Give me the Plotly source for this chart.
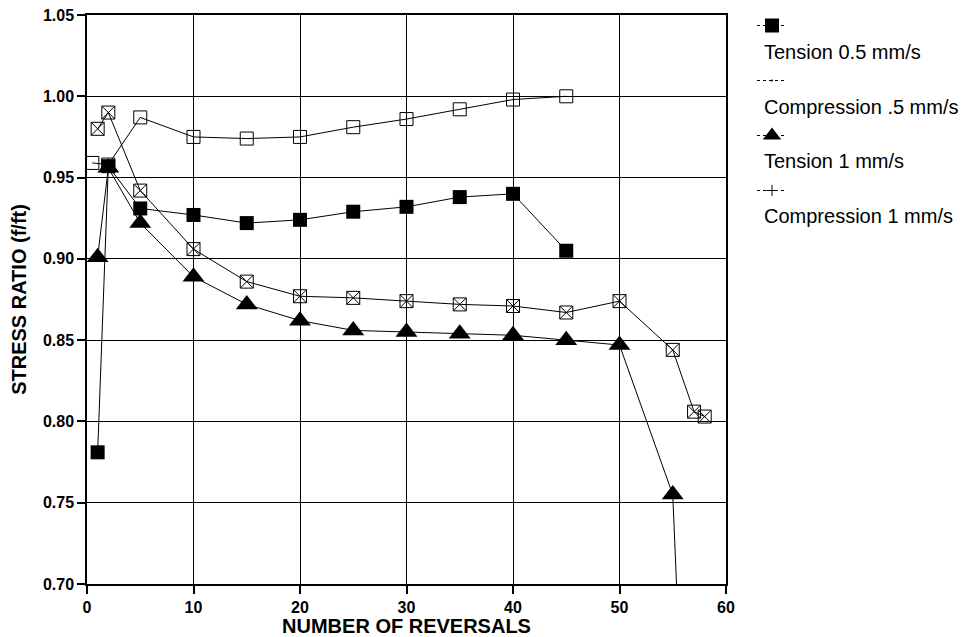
import plotly.graph_objects as go

# Data
t05_x = [1, 2, 5, 10, 15, 20, 25, 30, 35, 40, 45]
t05_y = [0.781, 0.957, 0.931, 0.927, 0.922, 0.924, 0.929, 0.932, 0.938, 0.940, 0.905]

c05_x = [0.5, 2, 5, 10, 15, 20, 25, 30, 35, 40, 45]
c05_y = [0.959, 0.958, 0.987, 0.975, 0.974, 0.975, 0.981, 0.986, 0.992, 0.998, 1.000]

t1_x = [1, 2, 5, 10, 15, 20, 25, 30, 35, 40, 45, 50, 55, 56]
t1_y = [0.901, 0.956, 0.922, 0.889, 0.872, 0.862, 0.856, 0.855, 0.854, 0.853, 0.850, 0.847, 0.755, 0.600]

c1_x = [1, 2, 5, 10, 15, 20, 25, 30, 35, 40, 45, 50, 55, 57, 58]
c1_y = [0.980, 0.990, 0.942, 0.906, 0.886, 0.877, 0.876, 0.874, 0.872, 0.871, 0.867, 0.874, 0.844, 0.806, 0.803]

series_names = ["Tension 0.5 mm/s", "Compression .5 mm/s", "Tension 1 mm/s", "Compression 1 mm/s"]

x_ticks = [0, 10, 20, 30, 40, 50, 60]
y_ticks = [0.70, 0.75, 0.80, 0.85, 0.90, 0.95, 1.00, 1.05]

BODY = "Liberation Sans, Arial, sans-serif"

fig = go.Figure()

line = dict(color="black", width=1)

fig.add_trace(go.Scatter(x=c05_x, y=c05_y, mode="lines+markers", line=line, showlegend=False,
                         marker=dict(symbol="square-open", size=13, color="black", line=dict(width=1))))
fig.add_trace(go.Scatter(x=c1_x, y=c1_y, mode="lines+markers", line=line, showlegend=False,
                         marker=dict(symbol="square-x-open", size=13, color="black", line=dict(width=1))))
fig.add_trace(go.Scatter(x=t1_x, y=t1_y, mode="lines+markers", line=line, showlegend=False,
                         marker=dict(symbol="triangle-up", size=19, color="black")))
fig.add_trace(go.Scatter(x=t05_x, y=t05_y, mode="lines+markers", line=line, showlegend=False,
                         marker=dict(symbol="square", size=14, color="black")))

# Legend proxies (symbol only; texts are placed below as annotations)
legend_markers = [
    dict(symbol="square", size=14, color="black"),
    dict(symbol="circle", size=2, color="black"),
    dict(symbol="triangle-up", size=19, color="black"),
    dict(symbol="cross-thin-open", size=8, color="black", line=dict(width=1, color="black")),
]
for name, mk in zip(series_names, legend_markers):
    fig.add_trace(go.Scatter(x=[None], y=[None], mode="lines+markers", name="&nbsp;<br>&nbsp;",
                             line=dict(color="black", width=1, dash="dot"), marker=mk, showlegend=True))

# plot area in page pixels: x 87..726, y 15..584 (page has an 8px body margin)
text_y = [(584 - p) / 569 for p in (52, 107, 161, 216)]
for name, ty in zip(series_names, text_y):
    fig.add_annotation(x=(762 - 87) / 639, y=ty, xref="paper", yref="paper", text=name, showarrow=False,
                       xanchor="left", yanchor="middle", font=dict(family=BODY, size=20, color="black"))

fig.update_layout(
    width=964, height=629,
    margin=dict(l=79, r=246, t=7, b=53, autoexpand=False),
    paper_bgcolor="white", plot_bgcolor="white",
    font=dict(family=BODY, color="black"),
    legend=dict(x=(752 - 87) / 639, y=1.0 + 9 / 569, xanchor="left", yanchor="top", valign="top",
                font=dict(size=20, family=BODY), bgcolor="rgba(0,0,0,0)", itemwidth=30),
)

fig.update_xaxes(range=[0, 60], tickvals=x_ticks, ticks="outside", ticklen=8, tickwidth=1.5,
                 tickcolor="black", showline=True, linecolor="black", linewidth=1.5, mirror=True,
                 showgrid=True, gridcolor="black", gridwidth=1, zeroline=False, automargin=False,
                 ticklabeloverflow="allow",
                 tickfont=dict(family=BODY, size=16, color="black", weight="bold"),
                 title=dict(text="NUMBER OF REVERSALS", standoff=4,
                            font=dict(family=BODY, size=20, color="black", weight="bold")))
fig.update_yaxes(range=[0.70, 1.05], tickvals=y_ticks, tickformat=".2f", ticks="outside", ticklen=8,
                 tickwidth=1.5, tickcolor="black", showline=True, linecolor="black", linewidth=1.5,
                 mirror=True, showgrid=True, gridcolor="black", gridwidth=1, zeroline=False, automargin=False,
                 ticklabeloverflow="allow",
                 tickfont=dict(family=BODY, size=16, color="black", weight="bold"),
                 title=dict(text="STRESS RATIO (f/ft)", standoff=11,
                            font=dict(family=BODY, size=20, color="black", weight="bold")))

fig.write_html("out.html")
